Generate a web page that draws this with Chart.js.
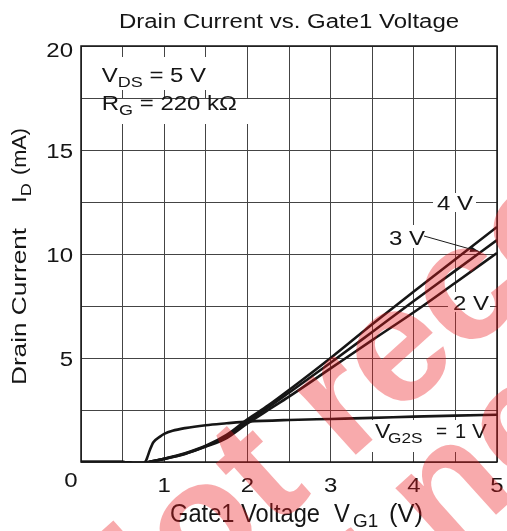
<!DOCTYPE html>
<html>
<head>
<meta charset="utf-8">
<title>Drain Current vs. Gate1 Voltage</title>
<script src="https://cdn.jsdelivr.net/npm/chart.js@4.4.0/dist/chart.umd.min.js"></script>
<style>
    html, body { margin: 0; padding: 0; background: #fff; }
    canvas { display: block; }
</style>
</head>
<body>
<canvas id="graficoCorrente" width="507" height="531"></canvas>
<script>
// Tensione di gate1 (V) per le curve VG2S = 2, 3, 4 V
const vg1 = [0, 0.5, 0.65, 0.75, 0.85, 1.0, 1.25, 1.5, 1.75, 2.0, 2.25, 2.5, 3.0, 3.5, 4.0, 4.5, 5.0];
// Corrente di drain (mA)
const id4V = [0, 0, -0.05, -0.05, 0.03, 0.16, 0.42, 0.78, 1.3, 2.05, 2.72, 3.46, 5.0, 6.62, 8.2, 9.75, 11.3];
const id3V = [0, 0, -0.05, -0.05, 0.03, 0.15, 0.4, 0.76, 1.22, 1.95, 2.62, 3.33, 4.77, 6.25, 7.74, 9.2, 10.67];
const id2V = [0, 0, -0.05, -0.05, 0.03, 0.15, 0.39, 0.74, 1.15, 1.85, 2.5, 3.14, 4.5, 5.86, 7.2, 8.62, 10.05];

// Curva VG2S = 1 V (salita ripida vicino a 0.8 V)
const vg1b = [0, 0.5, 0.65, 0.75, 0.78, 0.8, 0.83, 0.87, 0.95, 1.0, 1.1, 1.25, 1.5, 1.75, 2.0, 2.5, 3.0, 3.5, 4.0, 4.5, 5.0];
const id1V = [0, 0, -0.05, -0.05, 0.05, 0.26, 0.6, 0.95, 1.22, 1.35, 1.5, 1.63, 1.77, 1.86, 1.94, 2.02, 2.07, 2.12, 2.18, 2.23, 2.27];

// Etichette degli assi
const xTickValues = [1, 2, 3, 4, 5];
const yTickValues = [5, 10, 15, 20];

const FONT = '"Liberation Sans", Arial, Helvetica, sans-serif';

function punti(xs, ys) {
    return xs.map((x, i) => ({ x: x, y: ys[i] }));
}

// Scrive un testo "largo" (scala orizzontale sx), come nel grafico originale
function scritta(ctx, testo, x, y, size, sx, align, larghezza) {
    ctx.save();
    ctx.font = size + 'px ' + FONT;
    if (larghezza) {
        sx = larghezza / ctx.measureText(testo).width;
    }
    const w = ctx.measureText(testo).width * sx;
    ctx.translate(x, y);
    ctx.scale(sx, 1);
    ctx.textAlign = align || 'left';
    ctx.textBaseline = 'alphabetic';
    ctx.fillStyle = '#151515';
    ctx.fillText(testo, 0, 0);
    ctx.restore();
    return w;
}

// Testo con pedice: parti = [[testo, size, dy]]
function riga(ctx, parti, x, y, sx) {
    let cx = x;
    parti.forEach(p => {
        cx += scritta(ctx, p[0], cx, y + (p[2] || 0), p[1], sx, 'left');
    });
    return cx;
}

const decorazioni = {
    id: 'decorazioni',
    beforeDatasetsDraw(chart) {
        const ctx = chart.ctx;
        const a = chart.chartArea;
        ctx.save();
        // sfondi bianchi delle etichette
        ctx.fillStyle = '#fff';
        ctx.fillRect(96, 57, 122, 33);
        ctx.fillRect(96, 99, 162, 25);
        ctx.fillRect(433, 193, 43, 19);
        ctx.fillRect(386, 225, 40, 23);
        ctx.fillRect(448, 292, 42, 20);
        ctx.fillRect(370, 420, 122, 32);
        // cornice
        ctx.strokeStyle = '#151515';
        ctx.lineWidth = 1.5;
        ctx.strokeRect(a.left, a.top, a.right - a.left, a.bottom - a.top);
        ctx.restore();
    },
    afterDraw(chart) {
        const ctx = chart.ctx;
        const xs = chart.scales.x;
        const ys = chart.scales.y;

        // titolo
        scritta(ctx, 'Drain Current vs. Gate1 Voltage', 289, 27.5, 20, 1.2, 'center');

        // etichette tick
        yTickValues.forEach(v => {
            const extra = v === 20 ? 3 : 0;
            scritta(ctx, String(v), 73, ys.getPixelForValue(v) + 8 + extra, 20, 1.2, 'right');
        });
        xTickValues.forEach(v => {
            scritta(ctx, String(v), xs.getPixelForValue(v), 492, 20, 1.2, 'center');
        });
        scritta(ctx, '0', 71, 487, 20, 1.2, 'center');

        // titolo asse x
        scritta(ctx, 'Gate1 Voltage', 170, 521.7, 25, 1, 'left', 150);
        scritta(ctx, 'V', 334, 521.7, 25, 0.95, 'left');
        scritta(ctx, 'G1', 353, 527, 18, 1.05, 'left');
        scritta(ctx, '(V)', 389, 521.7, 25, 1, 'left', 34);

        // titolo asse y (ruotato)
        ctx.save();
        ctx.translate(26, 385);
        ctx.rotate(-Math.PI / 2);
        scritta(ctx, 'Drain Current', 0, 0, 19.5, 1, 'left', 157);
        const wI = scritta(ctx, 'I', 182, 0, 19.5, 1.25, 'left');
        scritta(ctx, 'D', 182 + wI, 5, 14.5, 1.25, 'left');
        scritta(ctx, '(mA)', 210, 0, 19.5, 1, 'left', 47);
        ctx.restore();

        // condizioni di misura
        riga(ctx, [['V', 20], ['DS', 15, 5], [' = 5 V', 20]], 101.7, 82, 1.2);
        riga(ctx, [['R', 20], ['G', 15, 5], [' = 220 k\u03A9', 20]], 101.7, 110, 1.2);

        // etichette delle curve
        scritta(ctx, '4 V', 437, 210, 20, 1.2, 'left');
        scritta(ctx, '3 V', 389, 245, 20, 1.2, 'left');
        scritta(ctx, '2 V', 453, 310, 20, 1.2, 'left');
        scritta(ctx, 'V', 375, 438, 20, 1.15, 'left');
        scritta(ctx, 'G2S', 388, 443, 15, 1.15, 'left');
        scritta(ctx, '=', 436, 438, 20, 0.95, 'left');
        scritta(ctx, '1', 455, 438, 20, 1.0, 'left');
        scritta(ctx, 'V', 472, 438, 20, 1.1, 'left');

        // freccia per "3 V"
        ctx.save();
        ctx.strokeStyle = '#1a1a1a';
        ctx.fillStyle = '#1a1a1a';
        ctx.lineWidth = 1;
        const x0 = 424, y0 = 236, x1 = 479, y1 = 251.5;
        ctx.beginPath();
        ctx.moveTo(x0, y0);
        ctx.lineTo(x1, y1);
        ctx.stroke();
        const ang = Math.atan2(y1 - y0, x1 - x0);
        ctx.beginPath();
        ctx.moveTo(x1, y1);
        ctx.lineTo(x1 - 9 * Math.cos(ang) + 3 * Math.sin(ang), y1 - 9 * Math.sin(ang) - 3 * Math.cos(ang));
        ctx.lineTo(x1 - 9 * Math.cos(ang) - 3 * Math.sin(ang), y1 - 9 * Math.sin(ang) + 3 * Math.cos(ang));
        ctx.closePath();
        ctx.fill();
        ctx.restore();

        // filigrana
        [['Not recommended', 109, 677], ['for new design', 248, 738]].forEach(f => {
            ctx.save();
            ctx.fillStyle = 'rgba(235, 25, 30, 0.37)';
            ctx.font = 'bold 165px ' + FONT;
            ctx.textBaseline = 'alphabetic';
            ctx.translate(f[1], f[2]);
            ctx.rotate(-42 * Math.PI / 180);
            ctx.fillText(f[0], 0, 0);
            ctx.restore();
        });
    }
};

const stileCurva = {
    borderColor: '#161616',
    borderWidth: 2.6,
    pointRadius: 0,
    fill: false,
    cubicInterpolationMode: 'monotone'
};

const ctx = document.getElementById('graficoCorrente').getContext('2d');
new Chart(ctx, {
    type: 'line',
    data: {
        datasets: [
            Object.assign({ label: 'VG2S = 4 V', data: punti(vg1, id4V) }, stileCurva),
            Object.assign({ label: 'VG2S = 3 V', data: punti(vg1, id3V) }, stileCurva),
            Object.assign({ label: 'VG2S = 2 V', data: punti(vg1, id2V) }, stileCurva),
            Object.assign({ label: 'VG2S = 1 V', data: punti(vg1b, id1V) }, stileCurva)
        ]
    },
    options: {
        responsive: false,
        devicePixelRatio: 1,
        animation: false,
        layout: { padding: { left: 81, right: 10, top: 46, bottom: 69 } },
        plugins: {
            legend: { display: false },
            title: { display: false },
            tooltip: { enabled: false }
        },
        scales: {
            x: {
                type: 'linear',
                min: 0,
                max: 5,
                ticks: { display: false, stepSize: 0.5 },
                grid: { color: '#444', lineWidth: 1, drawTicks: false },
                border: { display: false }
            },
            y: {
                type: 'linear',
                min: 0,
                max: 20,
                ticks: { display: false, stepSize: 2.5 },
                grid: { color: '#444', lineWidth: 1, drawTicks: false },
                border: { display: false }
            }
        }
    },
    plugins: [decorazioni]
});
</script>
</body>
</html>
